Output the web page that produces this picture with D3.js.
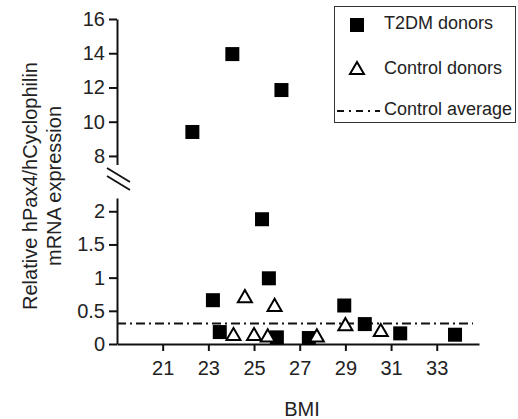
<!DOCTYPE html>
<html>
<head>
<meta charset="utf-8">
<script src="https://cdn.jsdelivr.net/npm/d3@7"></script>
<style>
  body { margin: 0; background: #fff; }
  svg text { font-family: "Liberation Sans", Arial, sans-serif; fill: #222; }
</style>
</head>
<body>
<div id="chart"></div>
<script>
// -------- Data --------
const t2dmBMI   = [22.3, 24.05, 26.2, 23.2, 23.5, 25.35, 25.65, 26.0, 27.4, 28.95, 29.85, 31.4, 33.8];
const t2dmValue = [9.4, 13.95, 11.85, 0.66, 0.18, 1.88, 0.99, 0.1, 0.09, 0.58, 0.3, 0.16, 0.14];

const ctrlBMI   = [24.6, 24.1, 25.0, 25.6, 25.9, 27.75, 29.0, 30.55];
const ctrlValue = [0.69, 0.12, 0.12, 0.1, 0.56, 0.1, 0.27, 0.18];

const controlAverage = 0.31;

const xTicks = [21, 23, 25, 27, 29, 31, 33];
const yTicksLow = [0, 0.5, 1, 1.5, 2];
const yTicksHigh = [8, 10, 12, 14, 16];
const BREAK = 5; // values above this go in the upper (broken) segment

// -------- Layout --------
const W = 518, H = 419;
const svg = d3.select("#chart").append("svg")
  .attr("width", W).attr("height", H);

const x = d3.scaleLinear().domain([19, 34.85]).range([117, 479]);
const yLow = d3.scaleLinear().domain([0, 2.2]).range([344, 198]);
const yHigh = d3.scaleLinear().domain([7.5, 16]).range([164.5, 19]);
const yOf = v => v > BREAK ? yHigh(v) : yLow(v);

// -------- Axes --------
function styleAxis(g) {
  g.select(".domain").attr("stroke", "#111").attr("stroke-width", 2);
  g.selectAll(".tick line").attr("stroke", "#111").attr("stroke-width", 2);
  g.selectAll(".tick text").attr("font-size", 20).attr("fill", "#222");
}

svg.append("g")
  .attr("transform", "translate(0,344)")
  .call(d3.axisBottom(x).tickValues(xTicks).tickSize(7).tickSizeOuter(0).tickPadding(10))
  .call(styleAxis);

svg.append("g")
  .attr("transform", "translate(117,0)")
  .call(d3.axisLeft(yLow).tickValues(yTicksLow).tickFormat(d3.format("~g"))
    .tickSize(8).tickSizeOuter(0).tickPadding(4))
  .call(styleAxis);

svg.append("g")
  .attr("transform", "translate(117,0)")
  .call(d3.axisLeft(yHigh).tickValues(yTicksHigh).tickSize(8).tickSizeOuter(0).tickPadding(4))
  .call(styleAxis);

// break marks "//"
svg.append("g").selectAll("line")
  .data([0, 8])
  .join("line")
  .attr("x1", 107).attr("y1", d => 168 + d)
  .attr("x2", 130).attr("y2", d => 182 + d)
  .attr("stroke", "#111").attr("stroke-width", 1.8);

// -------- Control average line --------
svg.append("line")
  .attr("x1", 117).attr("x2", 473)
  .attr("y1", yLow(controlAverage)).attr("y2", yLow(controlAverage))
  .attr("stroke", "#111").attr("stroke-width", 2)
  .attr("stroke-dasharray", "9,4,2,4");

// -------- Points --------
const sq = 14;
svg.append("g").selectAll("rect")
  .data(t2dmBMI.map((b, i) => ({ b, v: t2dmValue[i] })))
  .join("rect")
  .attr("x", d => x(d.b) - sq / 2)
  .attr("y", d => yOf(d.v) - sq / 2)
  .attr("width", sq).attr("height", sq)
  .attr("fill", "#000");

const tri = d3.symbol().type(d3.symbolTriangle).size(85);
svg.append("g").selectAll("path")
  .data(ctrlBMI.map((b, i) => ({ b, v: ctrlValue[i] })))
  .join("path")
  .attr("d", tri)
  .attr("transform", d => `translate(${x(d.b)},${yOf(d.v)})`)
  .attr("fill", "#fff").attr("stroke", "#000").attr("stroke-width", 2);

// -------- Axis titles --------
svg.append("text")
  .attr("x", 302).attr("y", 416)
  .attr("text-anchor", "middle").attr("font-size", 20)
  .text("BMI");

const yTitle = svg.append("text")
  .attr("transform", "translate(0,186) rotate(-90)")
  .attr("text-anchor", "middle").attr("font-size", 20);
yTitle.append("tspan").attr("x", 0).attr("y", 37).text("Relative hPax4/hCyclophilin");
yTitle.append("tspan").attr("x", 0).attr("y", 61).text("mRNA expression");

// -------- Legend --------
const lg = svg.append("g");
lg.append("rect")
  .attr("x", 334.5).attr("y", 6.5).attr("width", 181).attr("height", 116)
  .attr("fill", "#fff").attr("stroke", "#333").attr("stroke-width", 1);

lg.append("rect")
  .attr("x", 357 - sq / 2).attr("y", 25 - sq / 2)
  .attr("width", sq).attr("height", sq).attr("fill", "#000");
lg.append("path")
  .attr("d", tri)
  .attr("transform", "translate(357,70)")
  .attr("fill", "#fff").attr("stroke", "#000").attr("stroke-width", 2);
lg.append("line")
  .attr("x1", 337).attr("x2", 380).attr("y1", 111).attr("y2", 111)
  .attr("stroke", "#111").attr("stroke-width", 2)
  .attr("stroke-dasharray", "7,5,2,5");

const legendLabels = ["T2DM donors", "Control donors", "Control average"];
lg.selectAll("text.lab")
  .data(legendLabels)
  .join("text")
  .attr("class", "lab")
  .attr("x", 384)
  .attr("y", (d, i) => [29, 74, 115][i])
  .attr("font-size", 18)
  .text(d => d);
</script>
</body>
</html>
